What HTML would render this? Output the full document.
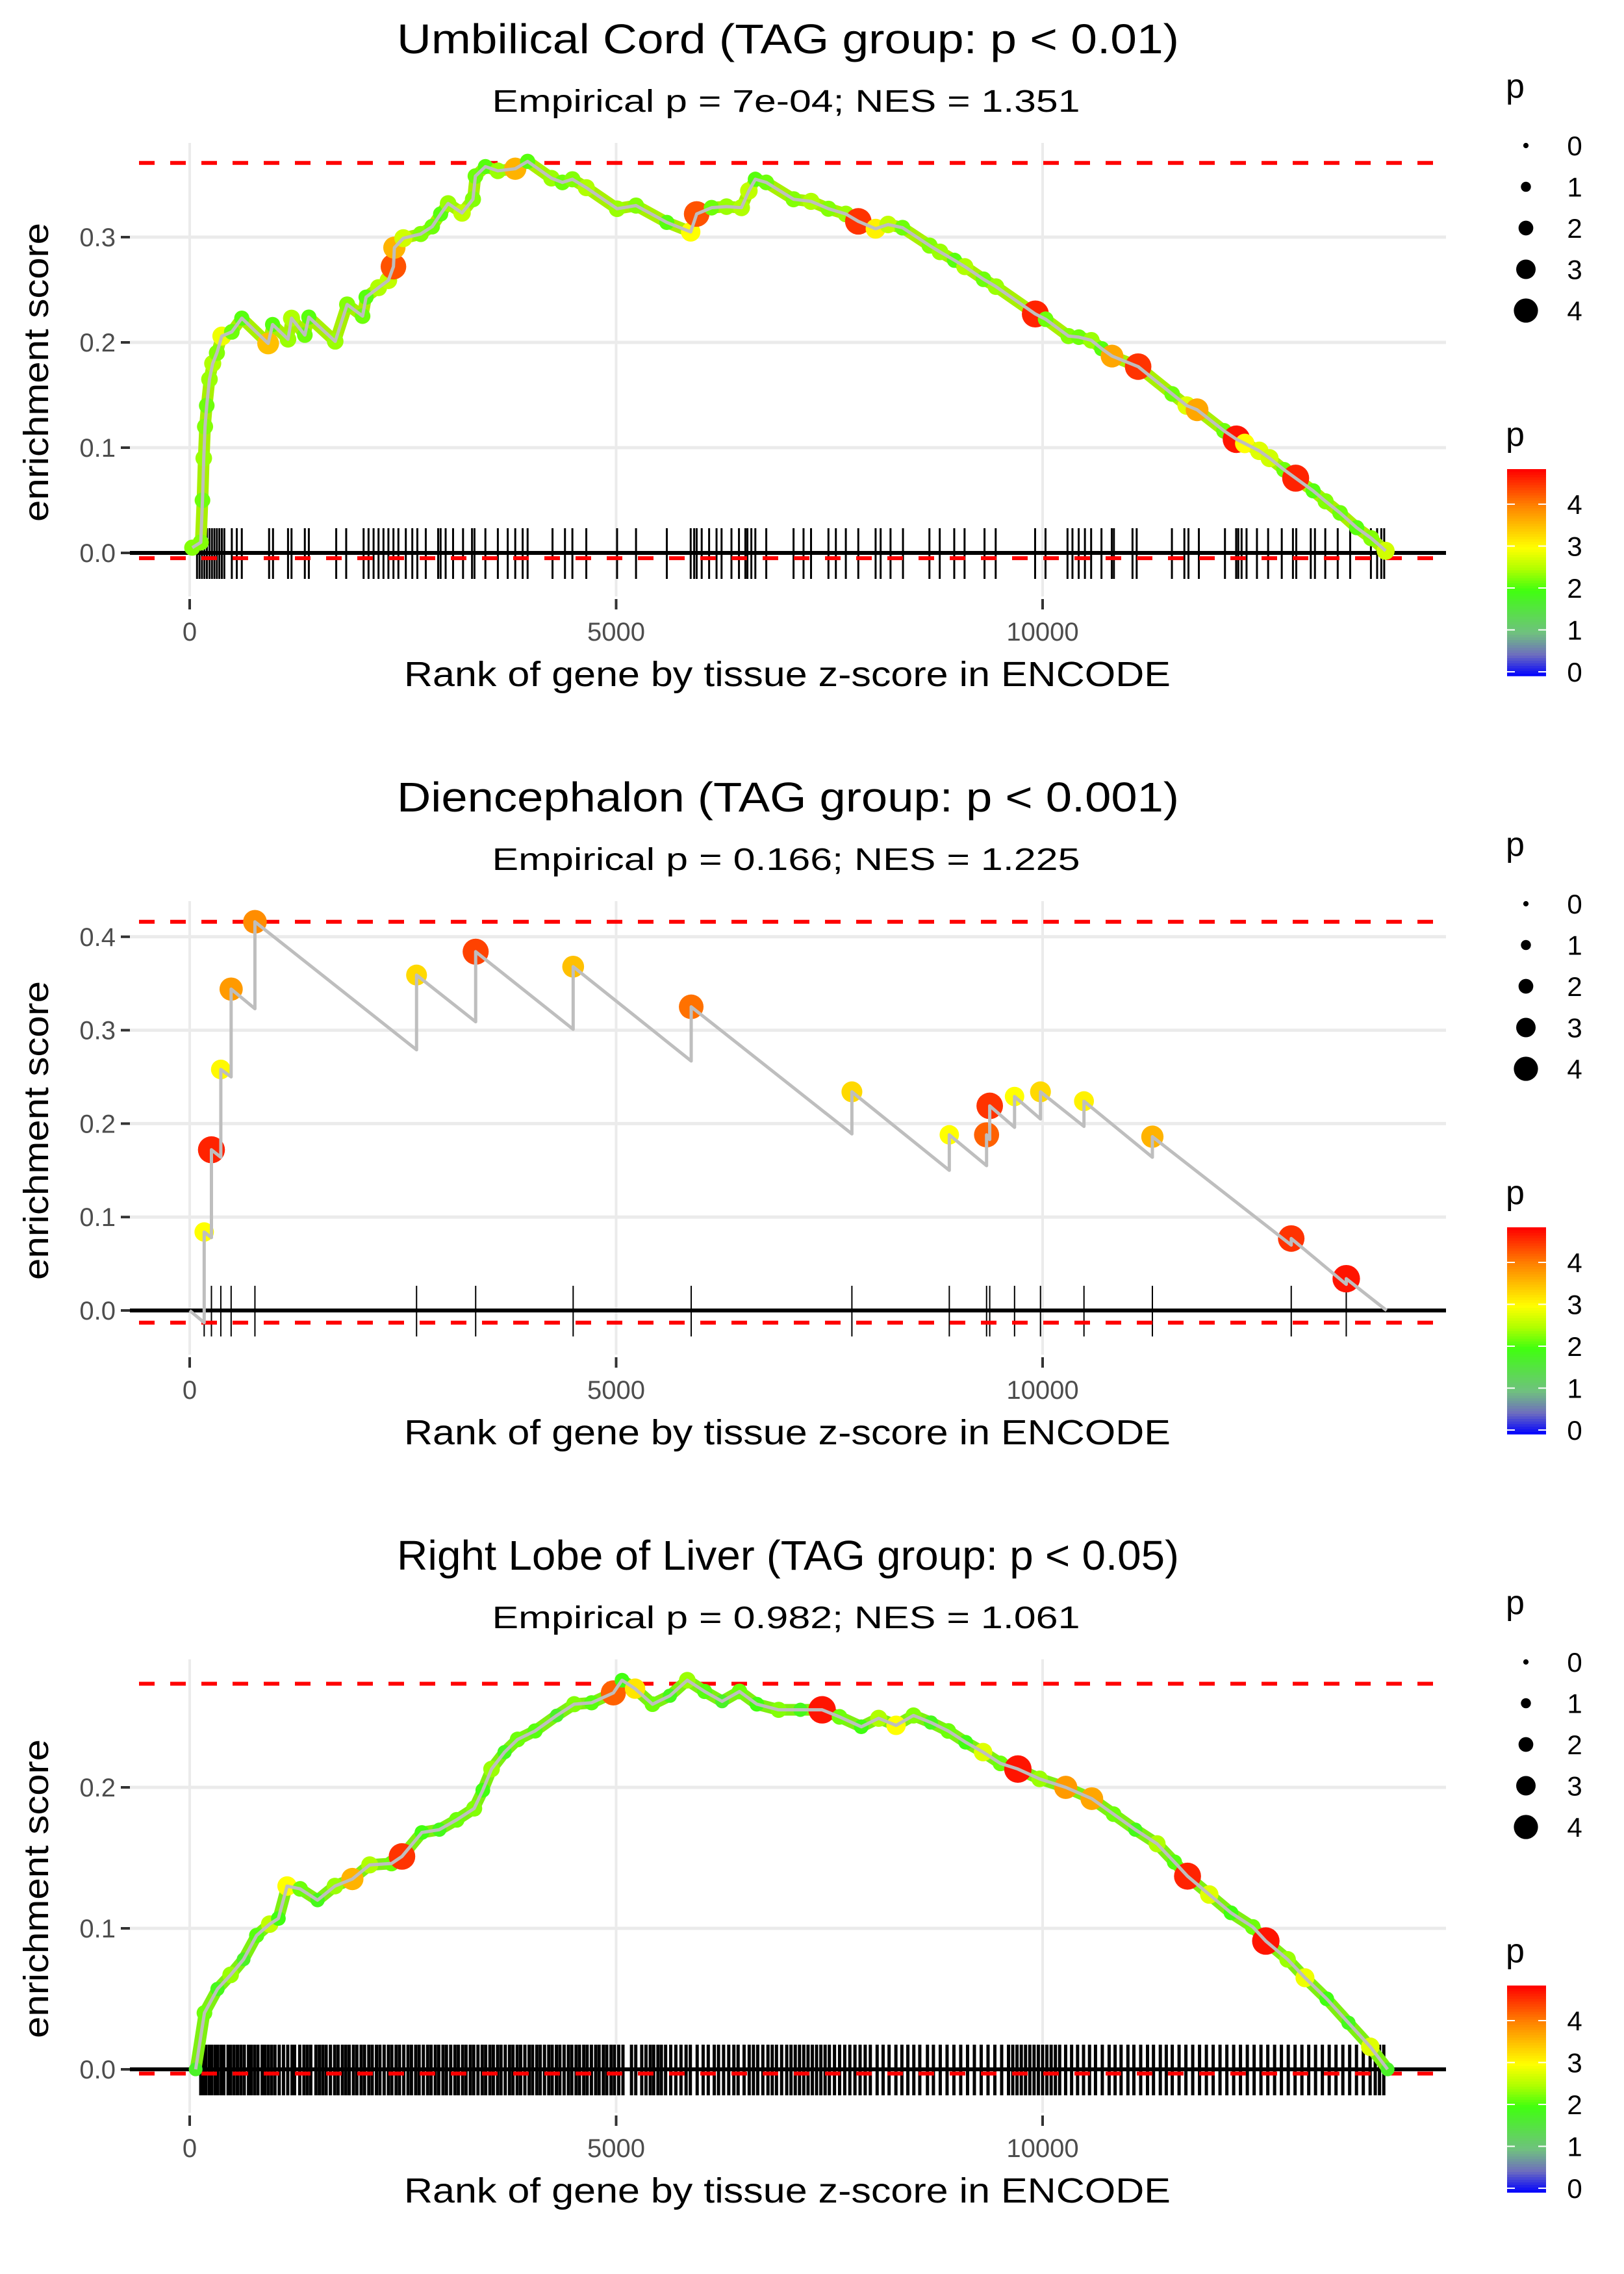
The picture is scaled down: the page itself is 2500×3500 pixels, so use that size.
<!DOCTYPE html>
<html><head><meta charset="utf-8"><style>
html,body{margin:0;padding:0;background:#fff;}
svg{display:block;font-family:"Liberation Sans",sans-serif;}
</style></head><body>
<svg id="chart" width="2500" height="3500" viewBox="0 0 2500 3500" xmlns="http://www.w3.org/2000/svg"></svg>
<script>
// ---------- Panel 1: Umbilical Cord ----------
const p1Ranks = [30,130,150,165,180,200,232,270,319,377,494,611,920,972,1153,1194,1350,1397,1706,1846,2027,2068,2214,2330,2389,2400,2505,2709,2843,2942,3030,3193,3321,3350,3467,3613,3817,3962,4242,4370,4487,4650,5011,5233,5594,5874,5944,6119,6294,6469,6556,6632,6760,7080,7285,7489,7693,7839,8042,8188,8357,8675,8797,8967,9088,9307,9453,9915,10036,10303,10425,10571,10693,10814,11120,11519,11689,11811,12127,12272,12370,12540,12661,12831,12967,13172,13318,13488,13682,13852,14022];
const p1ES = [0.005,0.01,0.05,0.09,0.12,0.14,0.165,0.18,0.19,0.206,0.21,0.223,0.199,0.217,0.203,0.223,0.207,0.224,0.201,0.236,0.225,0.243,0.252,0.259,0.272,0.290,0.299,0.303,0.31,0.322,0.332,0.323,0.336,0.358,0.367,0.363,0.365,0.372,0.356,0.352,0.355,0.347,0.327,0.33,0.314,0.305,0.322,0.328,0.329,0.328,0.344,0.355,0.352,0.336,0.334,0.327,0.322,0.315,0.308,0.312,0.309,0.292,0.286,0.278,0.272,0.26,0.253,0.227,0.222,0.206,0.205,0.202,0.194,0.187,0.177,0.151,0.14,0.136,0.116,0.108,0.104,0.097,0.09,0.079,0.071,0.059,0.049,0.038,0.024,0.014,0.002];
const p1P = [2.3,2.3,2.2,2.4,2.3,2.2,2.4,2.5,2.3,2.9,2.2,2.1,3.5,2.1,2.4,2.5,2.2,2.1,2.4,2.3,2.2,2.1,2.5,2.6,4.3,3.6,2.7,2.3,2.2,2.1,2.4,2.6,2.3,2.2,2.1,2.4,3.6,2.1,2.4,2.2,2.3,2.5,2.4,2.3,2.1,3.0,4.3,2.2,2.4,2.5,2.6,2.1,2.2,2.3,2.5,2.3,2.4,4.5,3.1,2.6,2.2,2.3,2.4,2.1,2.5,2.2,2.4,4.6,2.2,2.3,2.2,2.4,2.1,3.7,4.5,2.2,2.8,3.7,2.2,4.7,3.0,2.8,2.7,2.2,4.6,2.1,2.3,2.2,2.1,2.3,2.7];
const p1Rug = [86,115,144,173,202,232,261,290,319,348,377,406,494,552,611,931,977,1153,1194,1350,1397,1718,1835,2039,2097,2156,2214,2272,2330,2389,2447,2534,2610,2669,2768,2913,2942,3001,3088,3205,3310,3339,3467,3613,3729,3817,3904,3962,4254,4400,4487,4650,5011,5233,5594,5874,5915,5944,6003,6090,6177,6236,6352,6440,6515,6539,6585,6632,6760,7080,7197,7285,7489,7576,7693,7839,8042,8101,8217,8363,8673,8794,8964,9085,9319,9450,9912,10034,10292,10350,10423,10496,10569,10690,10811,10836,11054,11103,11516,11662,11710,11832,12138,12269,12294,12333,12391,12513,12644,12804,12935,12974,13144,13193,13314,13460,13606,13849,13922,13971,14005];
const p1Yticks = [0.0,0.1,0.2,0.3];

// ---------- Panel 2: Diencephalon ----------
const p2Ranks = [170,255,365,486,765,2660,3353,4496,5880,7764,8906,9343,9380,9671,9975,10485,11287,12915,13560];
const p2Top = [0.084,0.172,0.258,0.344,0.416,0.359,0.384,0.368,0.325,0.234,0.188,0.188,0.219,0.229,0.234,0.224,0.186,0.077,0.034];
const p2Bottom = [-0.013,0.078,0.164,0.25,0.323,0.279,0.309,0.301,0.267,0.189,0.150,0.155,0.183,0.196,0.205,0.197,0.164,0.070,0.028];
const p2P = [3.0,4.6,3.05,3.8,3.9,3.3,4.4,3.5,4.1,3.3,3.0,4.2,4.5,3.0,3.3,3.1,3.6,4.5,4.7];
const p2End = [14033,0];
const p2Yticks = [0.0,0.1,0.2,0.3,0.4];

// ---------- Panel 3: Right Lobe of Liver ----------
const p3Ranks = [70,173,326,480,632,785,938,1040,1142,1295,1499,1703,1907,2111,2366,2489,2723,2927,3131,3335,3437,3539,3692,3845,4049,4304,4508,4712,4967,5069,5222,5426,5630,5834,6038,6242,6446,6650,6905,7160,7415,7619,7874,8078,8282,8486,8690,8894,9098,9302,9506,9710,9965,10271,10577,10832,11087,11342,11546,11699,11954,12209,12464,12617,12872,13076,13331,13586,13842,14045];
const p3ES = [0,0.04,0.057,0.067,0.078,0.095,0.103,0.107,0.13,0.128,0.12,0.13,0.135,0.145,0.146,0.151,0.168,0.17,0.177,0.185,0.198,0.213,0.225,0.234,0.24,0.251,0.259,0.26,0.267,0.276,0.27,0.259,0.265,0.276,0.268,0.261,0.268,0.259,0.255,0.255,0.255,0.25,0.243,0.249,0.244,0.251,0.246,0.24,0.232,0.225,0.217,0.213,0.206,0.2,0.192,0.181,0.17,0.16,0.147,0.137,0.124,0.111,0.101,0.091,0.078,0.065,0.05,0.033,0.016,0];
const p3P = [1.8,2.2,1.9,2.4,1.8,2.1,2.6,2.0,3.0,2.2,1.9,2.4,3.6,2.5,2.2,4.5,2.0,1.9,2.2,2.3,2.0,2.4,1.9,2.2,2.1,1.8,2.3,2.1,4.2,2.0,3.2,2.2,1.9,2.4,2.1,1.8,2.2,2.0,2.3,1.9,4.7,2.2,2.0,2.5,3.0,2.3,1.9,2.2,2.0,2.8,2.2,4.7,2.4,3.8,3.7,2.2,1.9,2.5,2.1,4.6,2.8,2.0,2.2,4.7,2.4,2.9,2.0,1.9,2.8,1.8];
const p3Rug = [130,160,190,230,260,300,330,370,400,450,480,520,560,600,640,690,720,760,800,850,880,920,960,1000,1050,1100,1150,1200,1230,1290,1340,1380,1420,1480,1520,1560,1600,1650,1700,1740,1790,1830,1870,1920,1960,2010,2050,2100,2140,2190,2230,2280,2330,2370,2420,2460,2510,2560,2600,2650,2690,2740,2790,2830,2880,2920,2970,3010,3060,3110,3150,3200,3240,3290,3330,3380,3430,3470,3520,3560,3610,3650,3700,3750,3790,3840,3880,3930,3980,4020,4070,4110,4160,4210,4250,4300,4340,4390,4440,4480,4530,4570,4620,4660,4710,4760,4800,4850,4890,4940,4980,5030,5080,5180,5230,5300,5350,5400,5440,5490,5530,5580,5640,5700,5760,5820,5870,5950,6020,6080,6150,6200,6260,6320,6380,6430,6500,6560,6610,6660,6720,6780,6830,6880,6940,7000,7050,7100,7150,7200,7250,7300,7350,7400,7450,7500,7560,7620,7680,7740,7800,7860,7920,7980,8060,8130,8200,8280,8350,8420,8490,8560,8650,8720,8800,8880,8960,9040,9120,9200,9280,9360,9440,9520,9600,9650,9700,9750,9800,9850,9900,9950,10000,10050,10100,10150,10200,10270,10340,10410,10480,10550,10620,10700,10780,10850,10920,11000,11070,11150,11230,11300,11380,11450,11520,11600,11680,11760,11840,11920,12000,12080,12160,12240,12320,12400,12480,12560,12640,12720,12800,12880,12960,13040,13120,13200,13280,13360,13440,13520,13600,13680,13760,13840,13900,13950,14000];
const p3Yticks = [0.0,0.1,0.2];

const xTicks = [0,5000,10000];
const xTickLabels = ["0","5000","10000"];
const legendSizes = [0,1,2,3,4];

const titles = ["Umbilical Cord (TAG group: p < 0.01)","Diencephalon (TAG group: p < 0.001)","Right Lobe of Liver (TAG group: p < 0.05)"];
const subtitles = ["Empirical p = 7e-04; NES = 1.351","Empirical p = 0.166; NES = 1.225","Empirical p = 0.982; NES = 1.061"];

const NS = "http://www.w3.org/2000/svg";
const svg = document.getElementById('chart');
function el(tag, attrs, parent){const e=document.createElementNS(NS,tag);for(const k in attrs)e.setAttribute(k,attrs[k]);(parent||svg).appendChild(e);return e;}
function xScale(r){return 292 + 0.1313*r;}
const stops=[[0,[0,0,255]],[0.5,[110,110,190]],[1,[112,192,128]],[2,[64,255,16]],[2.5,[176,255,0]],[3,[255,255,0]],[3.5,[255,192,0]],[4,[255,128,0]],[4.83,[255,0,0]]];
function color(p){p=Math.max(0,Math.min(4.83,p));for(let i=1;i<stops.length;i++){if(p<=stops[i][0]){const a=stops[i-1],b=stops[i];const t=(p-a[0])/(b[0]-a[0]);const c=a[1].map((v,j)=>Math.round(v+(b[1][j]-v)*t));return `rgb(${c[0]},${c[1]},${c[2]})`;}}return 'rgb(255,0,0)';}
function radius(p){return (1.8+1.6*p)*2.27;}

function panel(k, cfg){
  const dy = 1167*k;
  const g = el('g',{});
  
  
  const y0 = cfg.y0 + dy, ys = cfg.ys;
  const Y = v => y0 - ys*v;
  const L=200, R=2226, T=220+dy, B=918+dy;
  xTicks.forEach(t=>{const l=el('line',{x1:xScale(t),x2:xScale(t),y1:T,y2:B,stroke:'#ebebeb','stroke-width':4},g);
    });
  cfg.yticks.forEach(t=>{ if(t===0) return; const l=el('line',{x1:L,x2:R,y1:Y(t),y2:Y(t),stroke:'#ebebeb','stroke-width':5},g);
    });
  const tt=el('text',{x:1213,y:82+dy,'text-anchor':'middle','font-size':64,fill:'#000',textLength:1204,lengthAdjust:'spacingAndGlyphs'},g);tt.textContent=titles[k];
  
  const st=el('text',{x:1210,y:172+dy,'text-anchor':'middle','font-size':48,fill:'#000',textLength:905,lengthAdjust:'spacingAndGlyphs'},g);st.textContent=subtitles[k];
  
  cfg.yticks.forEach(t=>{
    const tk=el('line',{x1:186,x2:200,y1:Y(t),y2:Y(t),stroke:'#333','stroke-width':4},g);
    
    const tl=el('text',{x:178,y:Y(t)+14,'text-anchor':'end','font-size':40,fill:'#4d4d4d'},g);tl.textContent=t.toFixed(1);
    
  });
  xTicks.forEach((t,i)=>{
    const tk=el('line',{x1:xScale(t),x2:xScale(t),y1:922+dy,y2:938+dy,stroke:'#333','stroke-width':4},g);
    
    const tl=el('text',{x:xScale(t),y:986+dy,'text-anchor':'middle','font-size':40,fill:'#4d4d4d'},g);tl.textContent=xTickLabels[i];
    
  });
  const xt=el('text',{x:1212,y:1056+dy,'text-anchor':'middle','font-size':54,fill:'#000',textLength:1180,lengthAdjust:'spacingAndGlyphs'},g);xt.textContent='Rank of gene by tissue z-score in ENCODE';
  
  const yt=el('text',{x:0,y:0,'text-anchor':'middle','font-size':54,fill:'#000',textLength:460,lengthAdjust:'spacingAndGlyphs',transform:`translate(74,${573+dy}) rotate(-90)`},g);yt.textContent='enrichment score';
  
  const zl=el('line',{x1:L,x2:R,y1:Y(0),y2:Y(0),stroke:'#000','stroke-width':6},g);
  
  cfg.rug.forEach(r=>{const l=el('line',{x1:xScale(r),x2:xScale(r),y1:Y(0)-38,y2:Y(0)+40,stroke:'#000','stroke-width':cfg.rugW},g);
    });
  [cfg.maxV,cfg.minV].forEach((v,i)=>{const l=el('line',{x1:L,x2:R,y1:Y(v),y2:Y(v),stroke:'#ff0000','stroke-width':6,'stroke-dasharray':'24 24','stroke-dashoffset':-62},g);
    });
  if(cfg.band){const pts=cfg.ranks.map((r,i)=>xScale(r)+','+Y(cfg.es[i])).join(' ');
    const b=el('polyline',{points:pts,fill:'none',stroke:cfg.band,'stroke-width':18,'stroke-linejoin':'round','stroke-linecap':'round'},g);
    }
  cfg.ranks.forEach((r,i)=>{const c=el('circle',{cx:xScale(r),cy:Y(cfg.es[i]),r:radius(cfg.p[i]),fill:color(cfg.p[i])},g);
    });
  let d;
  if(cfg.bottom){d=`M${xScale(0)},${Y(0)}`;cfg.ranks.forEach((r,i)=>{d+=` L${xScale(r)},${Y(cfg.bottom[i])} L${xScale(r)},${Y(cfg.es[i])}`;});d+=` L${xScale(cfg.end[0])},${Y(cfg.end[1])}`;}
  else{d='M'+cfg.ranks.map((r,i)=>xScale(r)+','+Y(cfg.es[i])).join(' L');}
  const ln=el('path',{d:d,fill:'none',stroke:'#bebebe','stroke-width':5,'stroke-linejoin':'round'},g);
  
  const lg=el('g',{},g);
  const lp=el('text',{x:2318,y:150+dy,'font-size':52,fill:'#000'},lg);lp.textContent='p';
  
  legendSizes.forEach((s,i)=>{const cy=224+dy+i*63.5;
    const c=el('circle',{cx:2349,cy:cy,r:radius(s),fill:'#000'},lg);
    const t=el('text',{x:2424,y:cy+15,'text-anchor':'middle','font-size':42,fill:'#000'},lg);t.textContent=String(s);
    });
  const cb=el('g',{},g);
  const cp=el('text',{x:2318,y:686+dy,'font-size':52,fill:'#000'},cb);cp.textContent='p';
  
  const n=80;for(let i=0;i<n;i++){const v0=4.83*i/n;
    const h=318/n;const r=el('rect',{x:2320,y:1040+dy-h*(i+1),width:60,height:h+0.8,fill:color(v0+2.415/n)},cb);
    }
  legendSizes.forEach(s=>{const yy=1034+dy-64.5*s;
    el('line',{x1:2320,x2:2332,y1:yy,y2:yy,stroke:'#fff','stroke-width':2},cb);el('line',{x1:2368,x2:2380,y1:yy,y2:yy,stroke:'#fff','stroke-width':2},cb);
    const t=el('text',{x:2424,y:yy+15,'text-anchor':'middle','font-size':42,fill:'#000'},cb);t.textContent=String(s);
    });
}

panel(0,{y0:851,ys:1620,yticks:p1Yticks,ranks:p1Ranks,es:p1ES,p:p1P,rug:p1Rug,rugW:3,maxV:0.3705,minV:-0.005,band:'#a8f000'});
panel(1,{y0:850,ys:1438,yticks:p2Yticks,ranks:p2Ranks,es:p2Top,bottom:p2Bottom,end:p2End,p:p2P,rug:p2Ranks,rugW:2,maxV:0.416,minV:-0.013});
panel(2,{y0:851,ys:2170,yticks:p3Yticks,ranks:p3Ranks,es:p3ES,p:p3P,rug:p3Rug,rugW:5,maxV:0.2735,minV:-0.003,band:'#7ef010'});
</script>
</body></html>
